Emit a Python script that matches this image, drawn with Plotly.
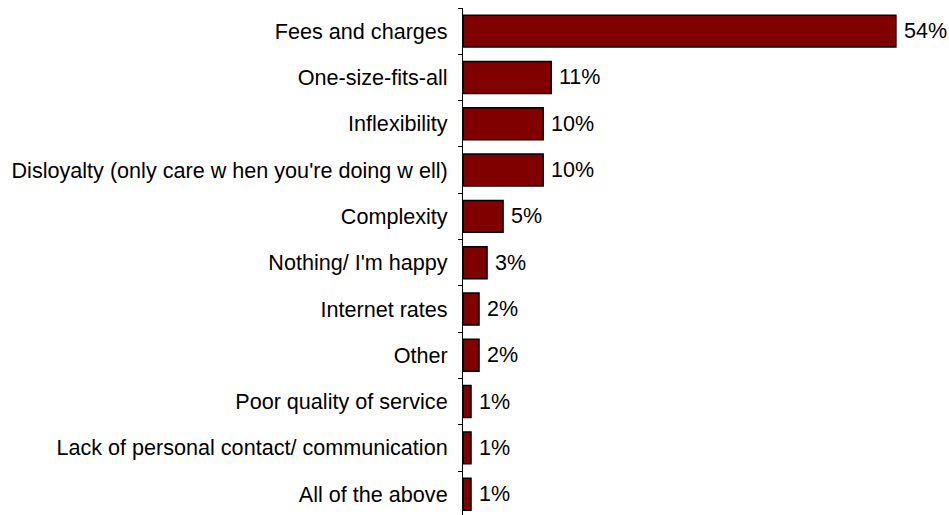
import plotly.graph_objects as go

# Survey responses: what people dislike about their bank
categories = [
    "Fees and charges",
    "One-size-fits-all",
    "Inflexibility",
    "Disloyalty (only care w hen you're doing w ell)",
    "Complexity",
    "Nothing/ I'm happy",
    "Internet rates",
    "Other",
    "Poor quality of service",
    "Lack of personal contact/ communication",
    "All of the above",
]
values = [54, 11, 10, 10, 5, 3, 2, 2, 1, 1, 1]

FONT = "Liberation Sans, Arial, sans-serif"

fig = go.Figure(
    go.Bar(
        x=values,
        y=categories,
        orientation="h",
        width=0.69,
        marker=dict(color="#800000", line=dict(color="#000000", width=1.5)),
        hoverinfo="skip",
    )
)

# value labels just right of each bar end
for cat, v in zip(categories, values):
    fig.add_annotation(
        x=v, y=cat, text=f"{v}%", showarrow=False,
        xanchor="left", yanchor="middle", xshift=6,
        font=dict(family=FONT, size=21.5, color="#000000"),
    )

fig.update_layout(
    width=949,
    height=515,
    margin=dict(l=463, r=5, t=8, b=0),
    paper_bgcolor="white",
    plot_bgcolor="white",
    showlegend=False,
    font=dict(family=FONT, size=21.5, color="#000000"),
    xaxis=dict(
        range=[0, 60],
        visible=False,
        showgrid=False,
        zeroline=False,
    ),
    yaxis=dict(
        type="category",
        categoryorder="array",
        categoryarray=categories,
        range=[10.45, -0.5],
        showline=True,
        linecolor="#000000",
        linewidth=1,
        ticks="outside",
        tickson="boundaries",
        ticklen=4,
        tickcolor="#000000",
        tickwidth=1,
        ticklabelstandoff=10,
        showgrid=False,
        zeroline=False,
        tickfont=dict(family=FONT, size=21.6, color="#000000"),
    ),
)

fig.write_html("out.html")
